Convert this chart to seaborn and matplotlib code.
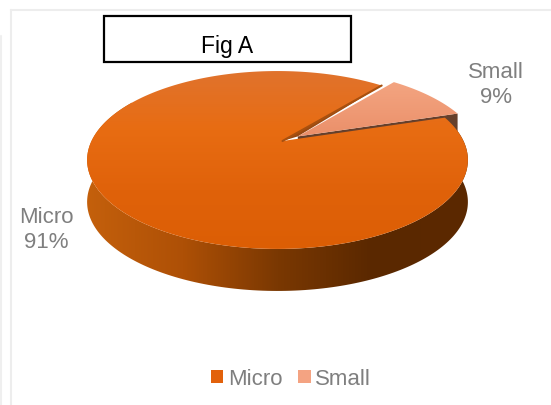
import numpy as np
import matplotlib
matplotlib.use("Agg")
import matplotlib.pyplot as plt
from matplotlib.colors import LinearSegmentedColormap
from matplotlib.patches import Polygon, Rectangle
from matplotlib.lines import Line2D
import seaborn as sns

sns.set_theme(style="white")
plt.rcParams["font.family"] = ["Liberation Sans", "DejaVu Sans"]

categories = ["Micro", "Small"]
shares = [91, 9]
title = "Fig A"

grey = "#7F7F7F"
palette = sns.color_palette(["#E2610B", "#F4A382"])

fig = plt.figure(figsize=(5.51, 4.06), dpi=100)
ax = fig.add_axes([0, 0, 1, 1])

# pie gives the wedge angles, they get re-drawn with a perspective below
wedges, _ = ax.pie(shares, startangle=49.4, explode=[0, 0.1], counterclock=True)
angles = [(w.theta1, w.theta2, w.center) for w in wedges]
for w in wedges:
    w.remove()

ax.set_aspect("auto")
ax.set_xlim(0, 551)
ax.set_ylim(406, 0)
ax.set_axis_off()

depth = 42


def project(u, v):
    # unit disc -> picture pixels, the back of the pie is squashed
    u, v = np.asarray(u, float), np.asarray(v, float)
    k = 0.2135
    w = 1 + k * v
    # apex sits a little right of the middle of the rim
    lean = 5 * np.clip(1 - u**2 - v**2, 0, 1)
    return 277.5 + lean + 186 * u / w, 142 - 84.9 * v / w


def outline(theta1, theta2, center):
    t = np.radians(np.linspace(theta1, theta2, 200))
    u = np.r_[center[0], center[0] + np.cos(t), center[0]]
    v = np.r_[center[1], center[1] + np.sin(t), center[1]]
    return np.column_stack(project(u, v))


def rim(theta1, theta2):
    t = np.radians(np.linspace(theta1, theta2, 200))
    return np.column_stack(project(np.cos(t), np.sin(t)))


def gradient(poly, colors, extent, horizontal, z):
    patch = Polygon(poly, closed=True, facecolor="none", edgecolor="none", zorder=z)
    ax.add_patch(patch)
    cmap = LinearSegmentedColormap.from_list("g", colors)
    ramp = np.linspace(0, 1, 256)
    ramp = ramp[None, :] if horizontal else ramp[:, None]
    im = ax.imshow(ramp, cmap=cmap, extent=extent, origin="upper", aspect="auto", zorder=z)
    im.set_clip_path(patch)


micro_start, micro_end, micro_c = angles[0]
small_start, small_end, small_c = angles[1]

# side wall, only the front part of the rim shows
front = rim(150, micro_end)
wall = np.vstack([front, (front + [0, depth])[::-1]])
gradient(wall, ["#C4600C", "#AE5006", "#7A3802", "#5A2800", "#5C2900"],
         (87, 469, 406, 0), True, 2)

# cut face of the pulled out slice, the micro top hides most of it
small_top = outline(small_start, small_end, small_c)
s_apex, s_corner = small_top[0], small_top[1]
ax.add_patch(Polygon([s_apex, s_corner, s_corner + [0, depth], s_apex + [0, depth]], closed=True,
                     facecolor="#66402C", edgecolor="none", zorder=3))

# top faces
gradient(outline(micro_start, micro_end, micro_c),
         ["#E0732E", "#E86C12", "#E0620A", "#DC5E04"], (80, 475, 252, 70), False, 4)
gradient(small_top, ["#F4A683", "#EF9A75", "#E98C66"], (285, 470, 145, 78), False, 5)

# dark cut face along the upper edge, narrows towards the rim
apex = np.column_stack(project(*np.array(micro_c)[:, None]))[0]
m_corner = rim(micro_start, micro_start)[0]
ax.add_patch(Polygon([apex, s_apex, m_corner], closed=True,
                     facecolor="#9A4A12", edgecolor="none", zorder=4.2))
ax.add_line(Line2D(*zip(apex, m_corner), color="#A8500F", lw=1.5, zorder=4.5))

# data labels
ax.text(496, 85, f"{categories[1]}\n{shares[1]}%", color=grey, fontsize=16,
        ha="center", va="center", linespacing=1.2, zorder=6)
ax.text(46, 230, f"{categories[0]}\n{shares[0]}%", color=grey, fontsize=16,
        ha="center", va="center", linespacing=1.2, zorder=6)

# title box, its text is cut at the baseline like in the source
ax.add_patch(Rectangle((104, 17), 247, 46, facecolor="white", edgecolor="black", lw=1.6, zorder=7))
txt = ax.text(227, 52.5, title, color="black", fontsize=16.5, ha="center", va="baseline", zorder=8)
txt.set_clip_path(Rectangle((104, 17), 248, 36.5, transform=ax.transData))

# faint frame of the chart area
ax.add_line(Line2D([11, 551], [11, 11], color="#EDEDED", lw=1.5, zorder=1))
ax.add_line(Line2D([11, 11], [11, 406], color="#EDEDED", lw=1.5, zorder=1))
ax.add_line(Line2D([0.5, 0.5], [37, 406], color="#EFEFEF", lw=1.5, zorder=1))

handles = [Rectangle((0, 0), 1, 1, facecolor=c, edgecolor="none") for c in palette]
ax.legend(handles, categories, loc="center", bbox_to_anchor=(291 / 551, 1 - 380 / 406),
          ncol=2, frameon=False, fontsize=16, labelcolor=grey, handlelength=0.55,
          handleheight=0.55, handletextpad=0.2, columnspacing=0.72, borderpad=0)

fig.savefig("out.png", dpi=100)
